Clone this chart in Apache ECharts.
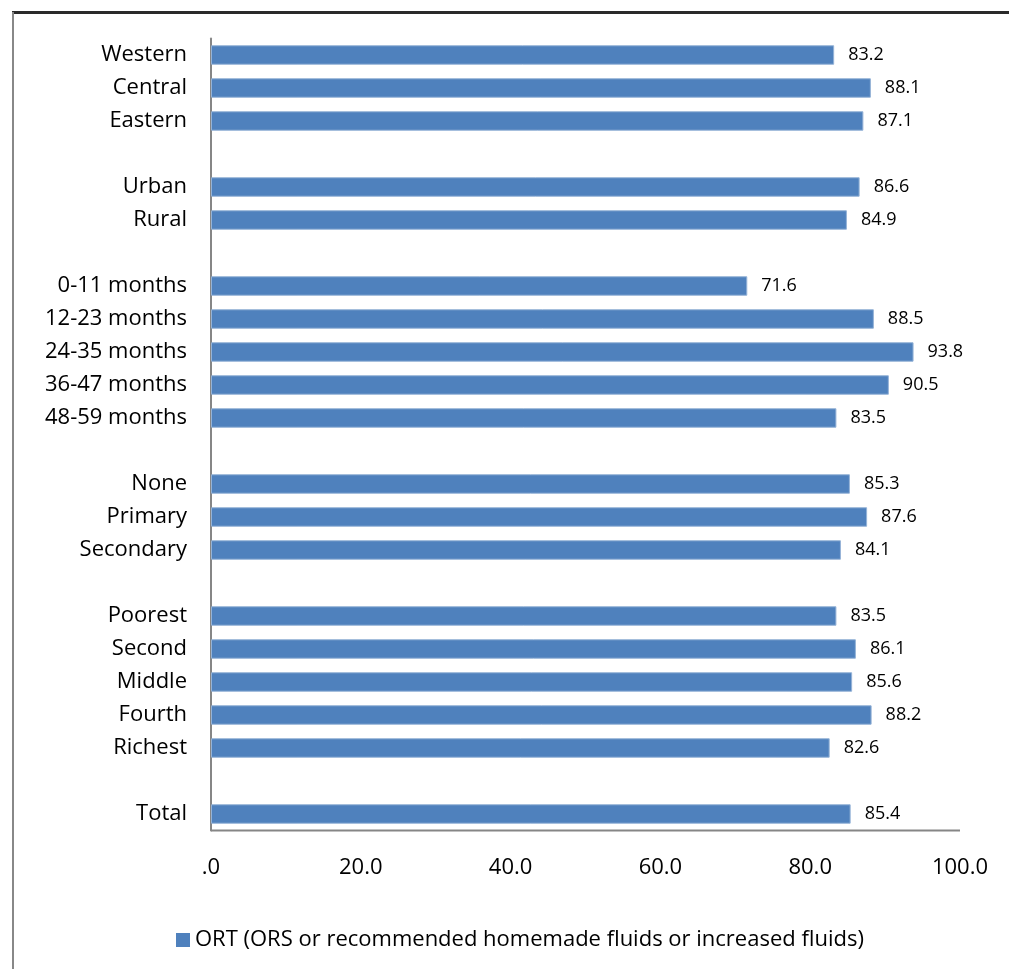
<!DOCTYPE html>
<html><head><meta charset="utf-8">
<script src="https://cdn.jsdelivr.net/npm/echarts@6/dist/echarts.min.js"></script>
<style>html,body{margin:0;padding:0;background:#fff}#c{width:1009px;height:969px}</style>
</head><body><div id="c"></div>
<script>
const categories = ['Western','Central','Eastern','','Urban','Rural','','0-11 months','12-23 months','24-35 months','36-47 months','48-59 months','','None','Primary','Secondary','','Poorest','Second','Middle','Fourth','Richest','','Total'];
const values = [83.2,88.1,87.1,'-',86.6,84.9,'-',71.6,88.5,93.8,90.5,83.5,'-',85.3,87.6,84.1,'-',83.5,86.1,85.6,88.2,82.6,'-',85.4];
const seriesName = 'ORT (ORS or recommended homemade fluids or increased fluids)';
const font = 'Open Sans, Liberation Sans, sans-serif';
const chart = echarts.init(document.getElementById('c'));
chart.setOption({
  animation:false,
  grid:{left:211,right:49,top:38.5,bottom:138.5,containLabel:false},
  legend:{top:924,left:171,itemWidth:14,itemHeight:14,itemGap:2,icon:'rect',
    itemStyle:{borderWidth:0},
    textStyle:{fontFamily:font,fontSize:22,color:'#000'},data:[seriesName]},
  xAxis:{type:'value',min:0,max:100,interval:20,
    axisLine:{show:false},axisTick:{show:false},splitLine:{show:false},
    axisLabel:{margin:26,fontFamily:font,fontSize:22,color:'#000',
      formatter:v=> v===0 ? '.0' : v.toFixed(1)}},
  yAxis:{type:'category',inverse:true,data:categories,
    axisLine:{show:true,lineStyle:{color:'#868686',width:2}},axisTick:{show:false},
    axisLabel:{margin:24,fontFamily:font,fontSize:22,color:'#000'}},
  graphic:[
    {type:'line',shape:{x1:12,y1:12.5,x2:1009,y2:12.5},style:{stroke:'#2a2a2a',lineWidth:3}},
    {type:'line',shape:{x1:13,y1:12,x2:13,y2:969},style:{stroke:'#888',lineWidth:2}},
    {type:'line',shape:{x1:211,y1:830.5,x2:960,y2:830.5},style:{stroke:'#868686',lineWidth:2}}
  ],
  series:[{name:seriesName,type:'bar',data:values,barCategoryGap:'41%',
    itemStyle:{color:'#4F81BD',borderColor:'#95B3D7',borderWidth:1},
    label:{show:true,position:'right',distance:14,fontFamily:font,fontSize:18,color:'#000',
      formatter:p=>p.value.toFixed(1)}}]
});
</script></body></html>
